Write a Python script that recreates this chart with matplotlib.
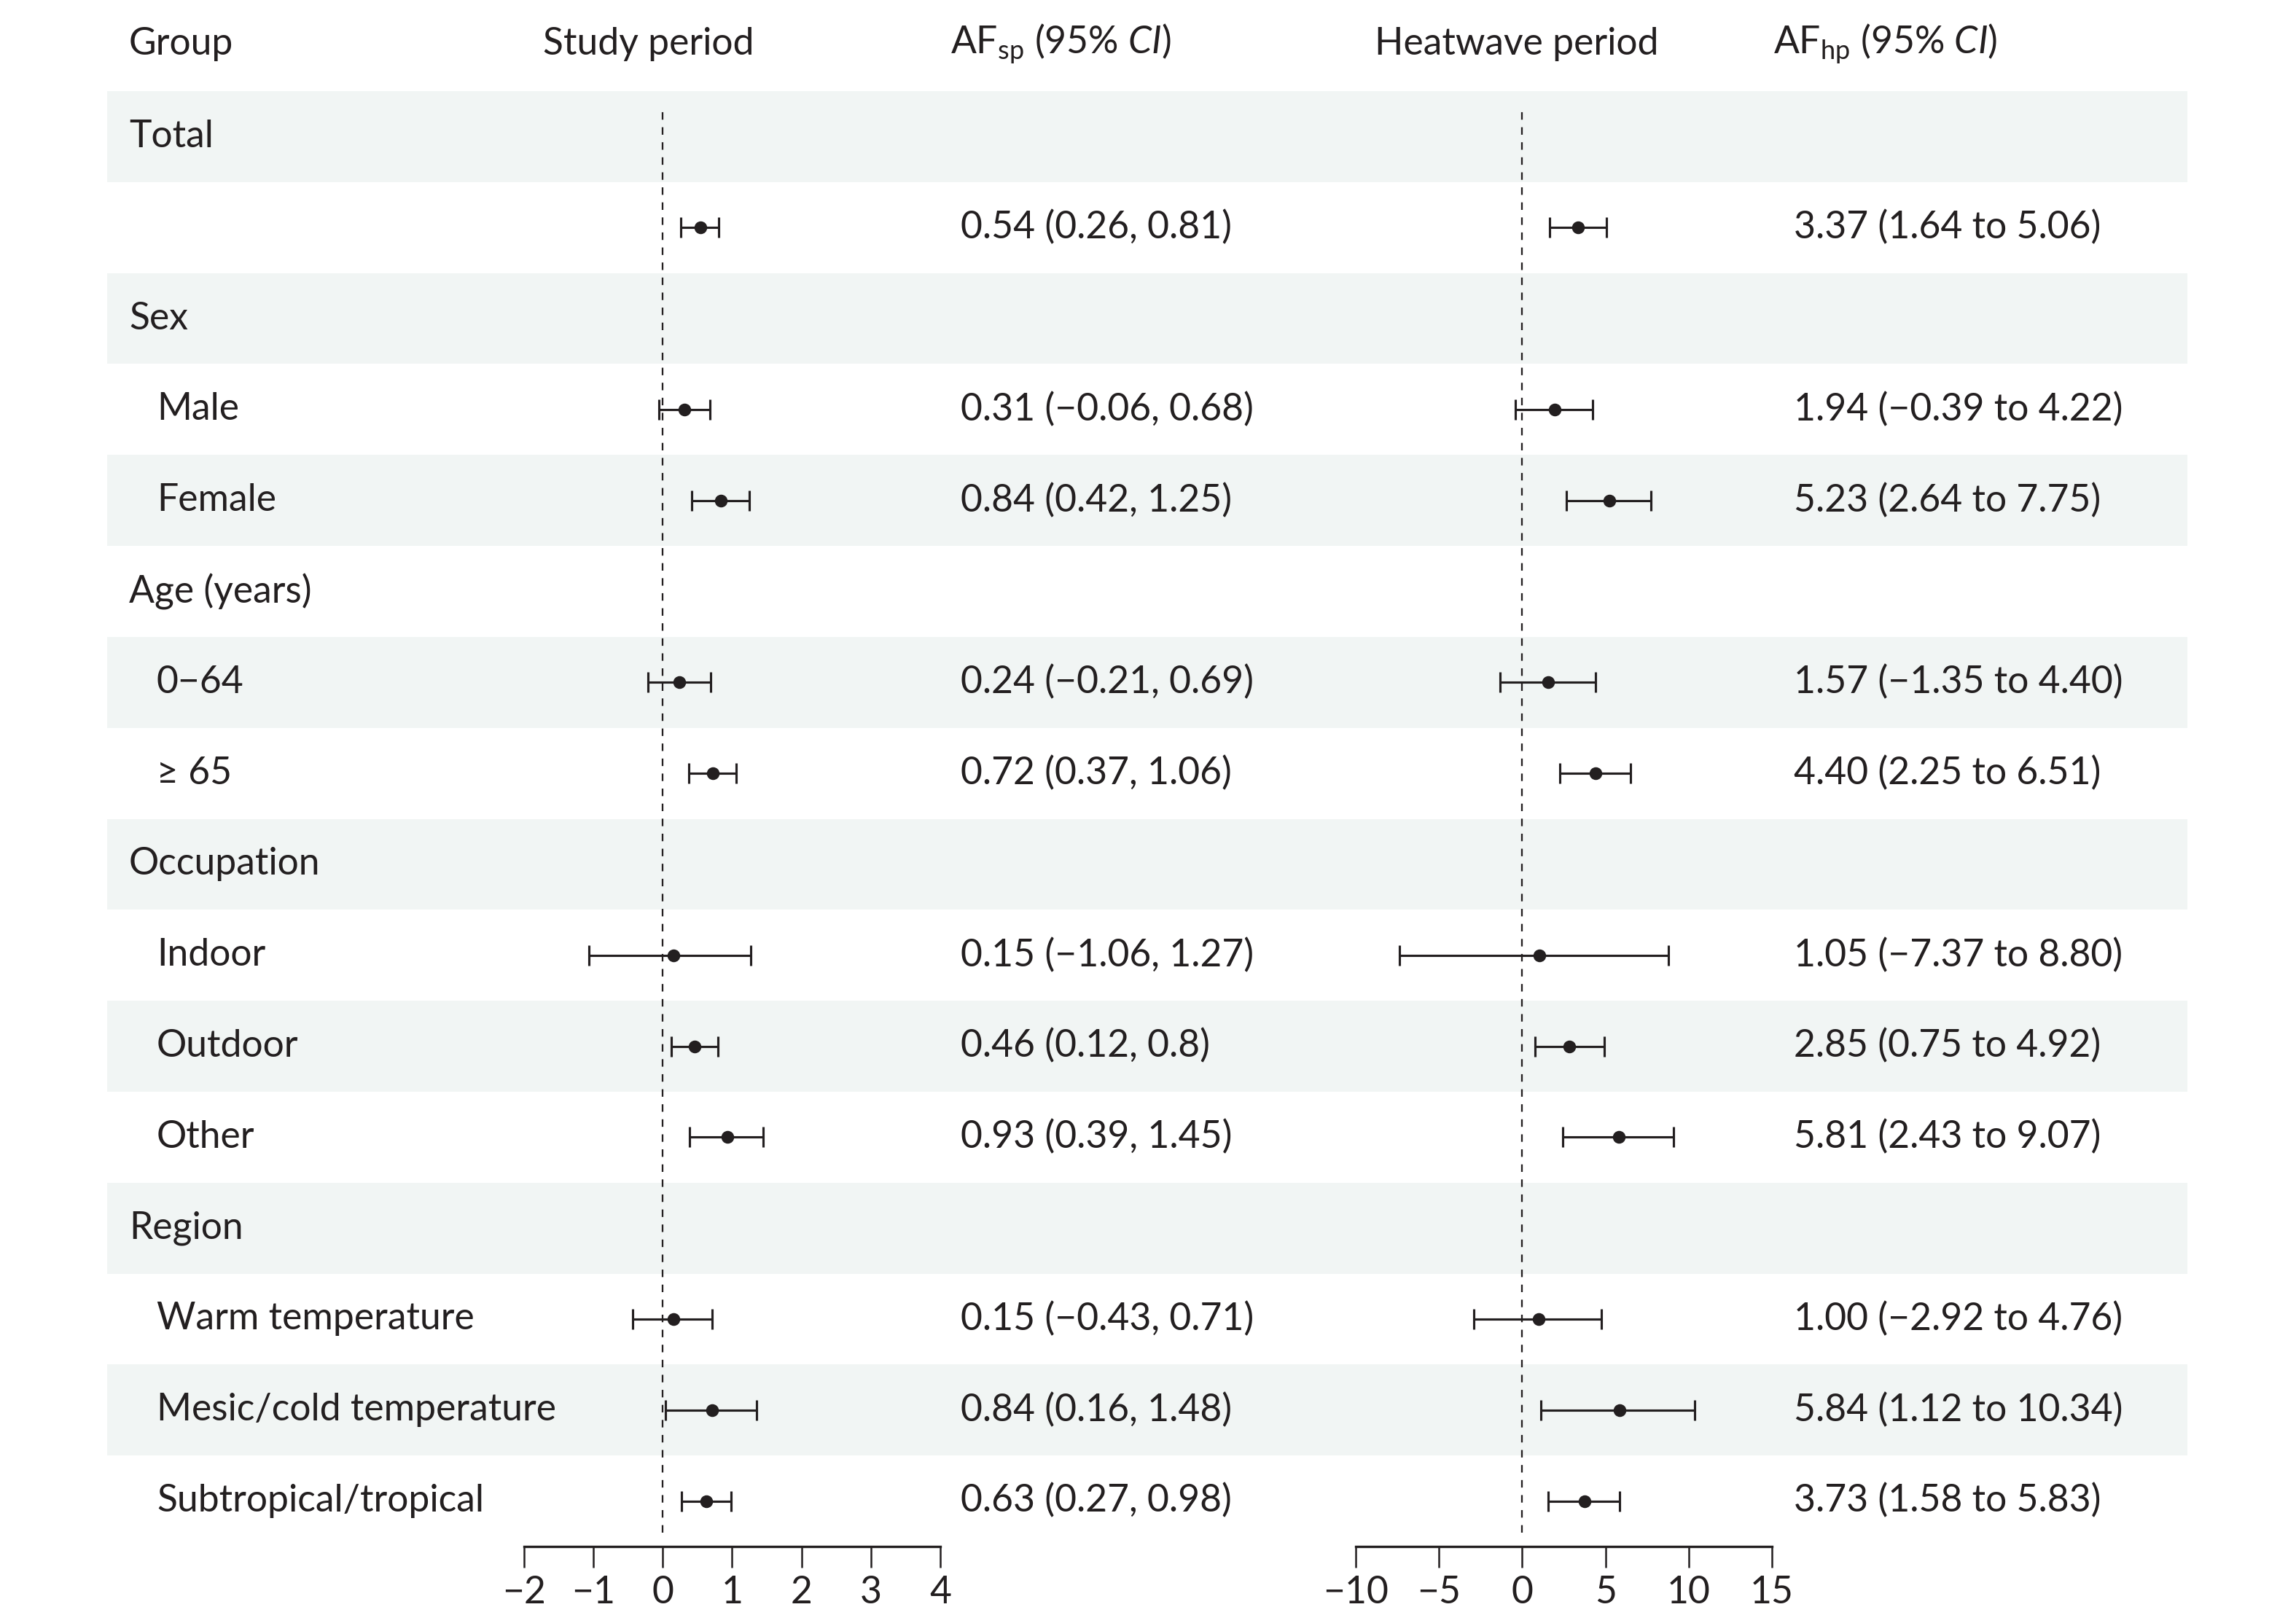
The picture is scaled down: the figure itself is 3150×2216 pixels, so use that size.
import matplotlib
matplotlib.use("Agg")
import matplotlib.pyplot as plt

plt.rcParams['font.family'] = ['Lato', 'DejaVu Sans']
plt.rcParams['mathtext.fontset'] = 'custom'
plt.rcParams['mathtext.rm'] = 'Lato'
plt.rcParams['mathtext.it'] = 'Lato:italic'
plt.rcParams['axes.unicode_minus'] = True

# ---- data ----
row_labels = ["Total", "", "Sex", "Male", "Female", "Age (years)", "0\u221264", "\u2265 65",
              "Occupation", "Indoor", "Outdoor", "Other", "Region",
              "Warm temperature", "Mesic/cold temperature", "Subtropical/tropical"]
is_header = [True, False, True, False, False, True, False, False,
             True, False, False, False, True, False, False, False]
data_rows = [1, 3, 4, 6, 7, 9, 10, 11, 13, 14, 15]

# plotted positions
sp_est = [0.54, 0.31, 0.84, 0.24, 0.72, 0.15, 0.46, 0.93, 0.15, 0.71, 0.63]
sp_lo = [0.26, -0.06, 0.42, -0.21, 0.37, -1.06, 0.12, 0.39, -0.43, 0.04, 0.27]
sp_hi = [0.81, 0.68, 1.25, 0.69, 1.06, 1.27, 0.80, 1.45, 0.71, 1.35, 0.98]
sp_text = ["0.54 (0.26, 0.81)", "0.31 (\u22120.06, 0.68)", "0.84 (0.42, 1.25)",
           "0.24 (\u22120.21, 0.69)", "0.72 (0.37, 1.06)", "0.15 (\u22121.06, 1.27)",
           "0.46 (0.12, 0.8)", "0.93 (0.39, 1.45)", "0.15 (\u22120.43, 0.71)",
           "0.84 (0.16, 1.48)", "0.63 (0.27, 0.98)"]

hp_est = [3.37, 1.94, 5.23, 1.57, 4.40, 1.05, 2.85, 5.81, 1.00, 5.84, 3.73]
hp_lo = [1.64, -0.39, 2.64, -1.35, 2.25, -7.37, 0.75, 2.43, -2.92, 1.12, 1.58]
hp_hi = [5.06, 4.22, 7.75, 4.40, 6.51, 8.80, 4.92, 9.07, 4.76, 10.34, 5.83]
hp_text = ["3.37 (1.64 to 5.06)", "1.94 (\u22120.39 to 4.22)", "5.23 (2.64 to 7.75)",
           "1.57 (\u22121.35 to 4.40)", "4.40 (2.25 to 6.51)", "1.05 (\u22127.37 to 8.80)",
           "2.85 (0.75 to 4.92)", "5.81 (2.43 to 9.07)", "1.00 (\u22122.92 to 4.76)",
           "5.84 (1.12 to 10.34)", "3.73 (1.58 to 5.83)"]

sp_ticks = [-2, -1, 0, 1, 2, 3, 4]
hp_ticks = [-10, -5, 0, 5, 10, 15]

headers = ["Group", "Study period", "AF$_{\\mathrm{sp}}$ (95% $\\mathit{CI}$)",
           "Heatwave period", "AF$_{\\mathrm{hp}}$ (95% $\\mathit{CI}$)"]

# ---- layout ----
W, H = 3150, 2216
DPI = 300
fig = plt.figure(figsize=(W / DPI, H / DPI), dpi=DPI)
TXT = '#231f20'
SHADE = '#f1f5f4'
FS = 12.4

top_px, bot_px = 125, 2122
nrows = len(row_labels)
b = 1 - bot_px / H
h = (bot_px - top_px) / H

bg = fig.add_axes([0, b, 1, h])
bg.set_xlim(0, W)
bg.set_ylim(nrows, 0)
bg.axis('off')
for i in range(nrows):
    if i % 2 == 0:
        bg.axhspan(i, i + 1, xmin=147 / W, xmax=3001 / W, color=SHADE, lw=0, zorder=0)

# row labels
for i, (lab, hd) in enumerate(zip(row_labels, is_header)):
    x = 177 if hd else 215
    bg.text(x, i + 0.5, lab, ha='left', va='center', fontsize=FS, color=TXT)

# value texts
for r, t1, t2 in zip(data_rows, sp_text, hp_text):
    bg.text(1318, r + 0.5, t1, ha='left', va='center', fontsize=FS, color=TXT)
    bg.text(2461, r + 0.5, t2, ha='left', va='center', fontsize=FS, color=TXT)

# headers
hy = -0.52
bg.text(177, hy, headers[0], ha='left', va='center', fontsize=FS, color=TXT, clip_on=False)
bg.text(890, hy, headers[1], ha='center', va='center', fontsize=FS, color=TXT, clip_on=False)
bg.text(1304, hy, headers[2], ha='left', va='center', fontsize=FS, color=TXT, clip_on=False)
bg.text(2081, hy, headers[3], ha='center', va='center', fontsize=FS, color=TXT, clip_on=False)
bg.text(2433, hy, headers[4], ha='left', va='center', fontsize=FS, color=TXT, clip_on=False)


def forest(x0, x1, est, lo, hi, ticks):
    ax = fig.add_axes([x0 / W, b, (x1 - x0) / W, h])
    ax.patch.set_alpha(0)
    ax.set_xlim(ticks[0], ticks[-1])
    ax.set_ylim(nrows, 0)
    ys = [r + 0.5 for r in data_rows]
    xerr = [[e - l for e, l in zip(est, lo)], [hh - e for e, hh in zip(est, hi)]]
    ax.errorbar(est, ys, xerr=xerr, fmt='o', color=TXT, ms=3.2, elinewidth=0.75,
                capsize=3.3, capthick=0.75, zorder=3, clip_on=False)
    ax.axvline(0, ymin=(nrows - 15.85) / nrows, ymax=(nrows - 0.18) / nrows,
               color=TXT, lw=0.55, linestyle=(0, (4.5, 4.5)), zorder=2)
    for s in ['top', 'left', 'right']:
        ax.spines[s].set_visible(False)
    ax.spines['bottom'].set_linewidth(0.8)
    ax.spines['bottom'].set_color(TXT)
    ax.set_yticks([])
    ax.set_xticks(ticks)
    ax.set_xticklabels([str(t).replace('-', '\u2212') for t in ticks])
    ax.tick_params(axis='x', direction='out', length=7, width=0.6, color=TXT,
                   labelsize=FS, labelcolor=TXT, pad=2.5)
    return ax


forest(719, 1290, sp_est, sp_lo, sp_hi, sp_ticks)
forest(1860, 2431, hp_est, hp_lo, hp_hi, hp_ticks)

fig.savefig('out.png', dpi=DPI)
